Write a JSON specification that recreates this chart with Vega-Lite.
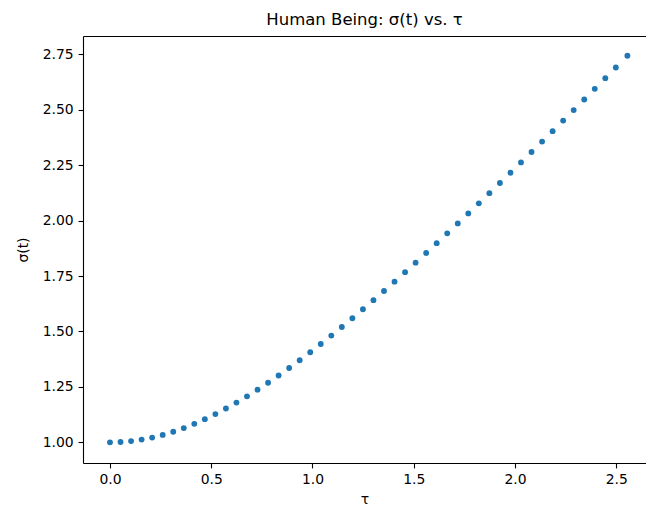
{
  "$schema": "https://vega.github.io/schema/vega-lite/v6.json",
  "autosize": {"type": "none"},
  "padding": {"left": 83, "top": 36, "right": 0, "bottom": 49},
  "width": 563,
  "height": 427,
  "background": "white",
  "title": {"text": "Human Being: σ(t) vs. τ", "font": "DejaVu Sans", "fontSize": 16.5, "fontWeight": "normal", "color": "black", "anchor": "middle", "offset": 8, "frame": "group"},
  "config": {
    "view": {"stroke": null},
    "axis": {
      "grid": false,
      "domainColor": "black",
      "domainWidth": 1.1,
      "tickColor": "black",
      "tickWidth": 1.1,
      "tickSize": 4.9,
      "labelPadding": 4.9,
      "labelFont": "DejaVu Sans",
      "labelFontSize": 13.9,
      "labelColor": "black",
      "titleFont": "DejaVu Sans",
      "titleFontSize": 13.9,
      "titleFontWeight": "normal",
      "titleColor": "black"
    }
  },
  "data": {"values": [
    {"tau": 0.0, "sigma": 1.0},
    {"tau": 0.05204, "sigma": 1.00135},
    {"tau": 0.10408, "sigma": 1.0054},
    {"tau": 0.15612, "sigma": 1.01212},
    {"tau": 0.20816, "sigma": 1.02143},
    {"tau": 0.2602, "sigma": 1.0333},
    {"tau": 0.31224, "sigma": 1.04762},
    {"tau": 0.36429, "sigma": 1.06429},
    {"tau": 0.41633, "sigma": 1.08321},
    {"tau": 0.46837, "sigma": 1.10425},
    {"tau": 0.52041, "sigma": 1.12731},
    {"tau": 0.57245, "sigma": 1.15226},
    {"tau": 0.62449, "sigma": 1.17898},
    {"tau": 0.67653, "sigma": 1.20735},
    {"tau": 0.72857, "sigma": 1.23726},
    {"tau": 0.78061, "sigma": 1.2686},
    {"tau": 0.83265, "sigma": 1.30127},
    {"tau": 0.88469, "sigma": 1.33517},
    {"tau": 0.93673, "sigma": 1.37021},
    {"tau": 0.98878, "sigma": 1.4063},
    {"tau": 1.04082, "sigma": 1.44336},
    {"tau": 1.09286, "sigma": 1.48133},
    {"tau": 1.1449, "sigma": 1.52013},
    {"tau": 1.19694, "sigma": 1.55971},
    {"tau": 1.24898, "sigma": 1.6},
    {"tau": 1.30102, "sigma": 1.64093},
    {"tau": 1.35306, "sigma": 1.6825},
    {"tau": 1.4051, "sigma": 1.72462},
    {"tau": 1.45714, "sigma": 1.76727},
    {"tau": 1.50918, "sigma": 1.81043},
    {"tau": 1.56122, "sigma": 1.85403},
    {"tau": 1.61327, "sigma": 1.89806},
    {"tau": 1.66531, "sigma": 1.94249},
    {"tau": 1.71735, "sigma": 1.98728},
    {"tau": 1.76939, "sigma": 2.03242},
    {"tau": 1.82143, "sigma": 2.07788},
    {"tau": 1.87347, "sigma": 2.12365},
    {"tau": 1.92551, "sigma": 2.1697},
    {"tau": 1.97755, "sigma": 2.21601},
    {"tau": 2.02959, "sigma": 2.26257},
    {"tau": 2.08163, "sigma": 2.30937},
    {"tau": 2.13367, "sigma": 2.35639},
    {"tau": 2.18571, "sigma": 2.40361},
    {"tau": 2.23776, "sigma": 2.45104},
    {"tau": 2.2898, "sigma": 2.49864},
    {"tau": 2.34184, "sigma": 2.54641},
    {"tau": 2.39388, "sigma": 2.59435},
    {"tau": 2.44592, "sigma": 2.64245},
    {"tau": 2.49796, "sigma": 2.69069},
    {"tau": 2.555, "sigma": 2.74373}
  ]},
  "layer": [
    {
      "mark": {"type": "point", "filled": true, "shape": "circle", "size": 34, "color": "#1f77b4", "opacity": 1},
      "encoding": {
        "x": {"field": "tau", "type": "quantitative", "scale": {"domain": [-0.1333, 2.6469], "nice": false, "zero": false},
              "axis": {"title": "τ", "values": [0, 0.5, 1, 1.5, 2, 2.5], "format": ".1f", "titlePadding": 6}},
        "y": {"field": "sigma", "type": "quantitative", "scale": {"domain": [0.9066, 2.8327], "nice": false, "zero": false},
              "axis": {"title": "σ(t)", "values": [1, 1.25, 1.5, 1.75, 2, 2.25, 2.5, 2.75], "format": ".2f", "titlePadding": 12}}
      }
    },
    {
      "mark": {"type": "point", "opacity": 0},
      "encoding": {
        "x": {"field": "tau", "type": "quantitative",
              "axis": {"orient": "top", "title": null, "labels": false, "ticks": false, "domain": true}}
      }
    }
  ],
  "resolve": {"axis": {"x": "independent"}}
}
